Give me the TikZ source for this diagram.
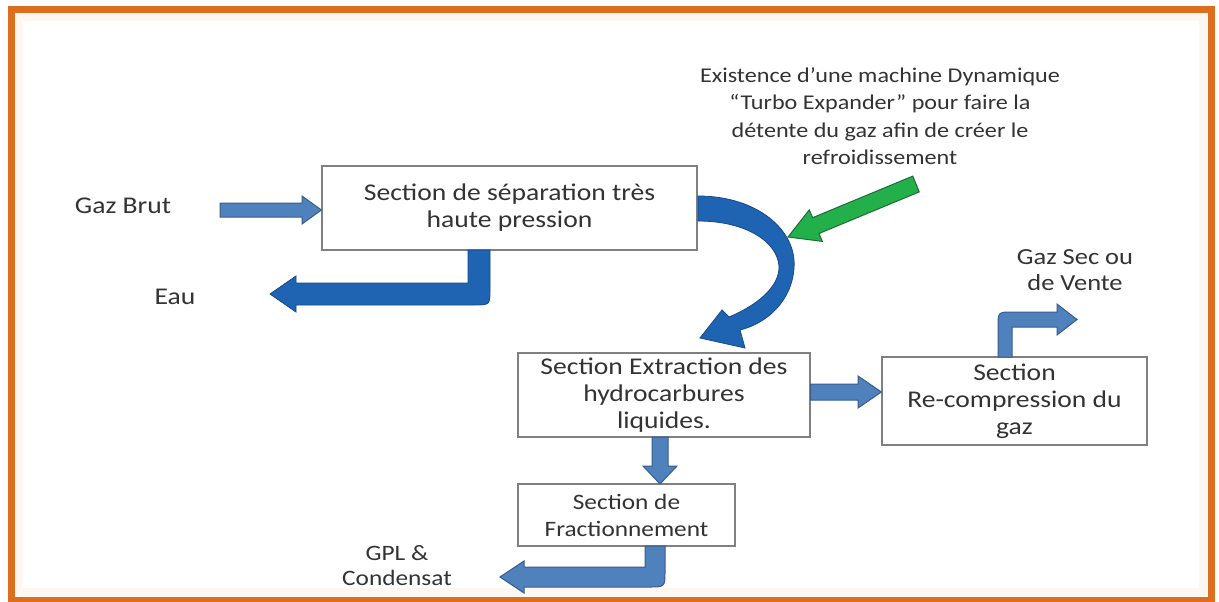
\documentclass[tikz,border=0pt]{standalone}
\usepackage{fontspec}
\setmainfont{Carlito}[FakeStretch=1.15]
\usetikzlibrary{calc}
\definecolor{txt}{HTML}{333333}
\definecolor{frameor}{HTML}{DC6E1E}
\definecolor{bluelt}{HTML}{4F81BD}
\definecolor{bluelto}{HTML}{385D8A}
\definecolor{bluedk}{HTML}{1F63B3}
\definecolor{bluedko}{HTML}{17498A}
\definecolor{grn}{HTML}{23B04A}
\definecolor{grno}{HTML}{1D6B3A}
\definecolor{boxline}{HTML}{808080}
\begin{document}
\begin{tikzpicture}[x=1pt,y=-1pt,
  lbl/.style={text=txt, font=\fontsize{24}{27}\selectfont, align=center, inner sep=0},
  sec/.style={draw=boxline, line width=1.2, fill=white, text=txt,
    font=\fontsize{24}{27}\selectfont, align=center, inner sep=0},
  barrow/.style={fill=bluelt, draw=bluelto, line width=1},
  darrow/.style={fill=bluedk, draw=bluedko, line width=0.8},
  garrow/.style={fill=grn, draw=grno, line width=1}]
\useasboundingbox (0,0) rectangle (1219,602);
\fill[white] (0,0) rectangle (1219,602);
% frame
\draw[frameor!6, line width=8] (19,17) rectangle (1203,592);
\draw[frameor, line width=7] (11,10) rectangle (1211,600);

% boxes
\node[sec, minimum width=375, minimum height=84] (b1) at (509.5,208) {Section de séparation très\\haute pression};
\node[sec, minimum width=292, minimum height=84] (b2) at (664,395) {Section Extraction des\\hydrocarbures\\liquides.};
\node[sec, minimum width=265, minimum height=88] (b3) at (1014.5,401) {Section\\Re-compression du\\gaz};
\node[sec, minimum width=217, minimum height=62, font=\fontsize{22}{27}\selectfont] (b4) at (626.5,515) {Section de\\Fractionnement};

% labels
\node[lbl] (gazbrut) at (123,206) {Gaz Brut};
\node[lbl] (eau) at (175,297) {Eau};
\node[lbl, font=\fontsize{21}{27.5}\selectfont] (note) at (880,116) {Existence d’une machine Dynamique\\“Turbo Expander” pour faire la\\détente du gaz afin de créer le\\refroidissement};
\node[lbl, font=\fontsize{23}{26}\selectfont] (gazsec) at (1075,270) {Gaz Sec ou\\de Vente};
\node[lbl, font=\fontsize{22}{25}\selectfont] (gpl) at (397,566) {GPL \&\\Condensat};

% Gaz Brut -> b1
\draw[barrow] (220,203) -- (302,203) -- (302,196) -- (b1.west |- 0,210) -- (302,224) -- (302,217) -- (220,217) -- cycle;
% b1 -> Eau
\draw[darrow] (468,250) -- (490,250) -- (490,289) .. controls (490,305) .. (474,305) -- (296,305) -- (296,312) -- (270,294) -- (296,276) -- (296,283) -- (468,283) -- cycle;
% b1 -> b2 curved
\draw[darrow] (698,196) .. controls (757,196) and (797,230) .. (794,268)
  .. controls (792,300) and (768,323) .. (740,330)
  -- (745,348) -- (700,338) -- (722,310) -- (729,317)
  .. controls (758,305) and (780,286) .. (779,266)
  .. controls (777,241) and (745,221) .. (698,221) -- cycle;
% green arrow
\draw[garrow] (912.8,176.1) -- (812.6,217.7) -- (809.3,209.8) -- (788,237) -- (822.3,241.4) -- (819.0,233.5) -- (919.2,191.9) -- cycle;
% b2 -> b3
\draw[barrow] (b2.east |- 0,384) -- (858,384) -- (858,376) -- (b3.west |- 0,392) -- (858,408) -- (858,400) -- (b2.east |- 0,400) -- cycle;
% b3 -> Gaz Sec
\draw[barrow] (998,357) -- (998,327) .. controls (998,312) .. (1013,312) -- (1057,312) -- (1057,304) -- (1077,319.5) -- (1057,335) -- (1057,327) -- (1012,327) -- (1012,357) -- cycle;
% b2 -> b4
\draw[barrow] (652,437) -- (668,437) -- (668,466) -- (677,466) -- (660,484) -- (643,466) -- (652,466) -- cycle;
% b4 -> GPL
\draw[barrow] (645,546) -- (665,546) -- (665,571) .. controls (665,587) .. (649,587) -- (524,587) -- (524,593) -- (500,577) -- (524,561) -- (524,567) -- (645,567) -- cycle;
\end{tikzpicture}
\end{document}
